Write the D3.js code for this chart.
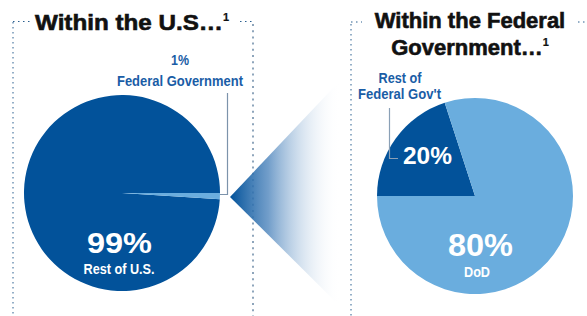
<!DOCTYPE html>
<html><head><meta charset="utf-8">
<script src="https://cdn.jsdelivr.net/npm/d3@7"></script>
<style>
html,body{margin:0;padding:0;background:#fff;}
svg{display:block;}
</style></head>
<body>
<svg id="c" width="587" height="316"></svg>
<script>
// Data
const usCategories = ["Rest of U.S.", "Federal Government"];
const usValues = [99, 1];
const fedCategories = ["Rest of Federal Gov't", "DoD"];
const fedValues = [20, 80];
const titles = ["Within the U.S…", "Within the Federal", "Government…"];

const dark = "#02529a", light = "#6aadde";
const svg = d3.select("#c");
const defs = svg.append("defs");
const grad = defs.append("linearGradient").attr("id","cone").attr("gradientUnits","userSpaceOnUse")
  .attr("x1",230).attr("y1",0).attr("x2",340).attr("y2",0);
grad.append("stop").attr("offset",0).attr("stop-color",dark).attr("stop-opacity",1);
grad.append("stop").attr("offset",0.35).attr("stop-color","#4f86bd").attr("stop-opacity",0.8);
grad.append("stop").attr("offset",1).attr("stop-color","#ffffff").attr("stop-opacity",0);

// Dotted frames
const dotted = (x1,y1,x2,y2,col,w,dash) => svg.append("line").attr("x1",x1).attr("y1",y1).attr("x2",x2).attr("y2",y2)
  .attr("stroke",col).attr("stroke-width",w).attr("stroke-dasharray",dash);
dotted(13,21.5,33,21.5,"#2a5f8f",1,"1.5,3.5");
dotted(240,21.5,253,21.5,"#2a5f8f",1,"1.5,3.5");
dotted(13,22,13,316,"#2a5f8f",1,"1.5,3.5");
dotted(253,24,253,316,"#8ea5bb",2,"2,4.2");
dotted(351,22,362,22,"#2a5f8f",1,"1.5,3.5");
dotted(578,22,587,22,"#2a5f8f",1,"1.5,3.5");
dotted(351,24,351,316,"#2a5f8f",1,"1.5,3.5");

// Cone
svg.append("path").attr("d","M230,197 L352,68 L352,318 Z").attr("fill","url(#cone)");

const R = 98;
const arc = d3.arc().innerRadius(0).outerRadius(R);
const usScale = d3.scaleOrdinal().domain(usCategories).range([dark, light]);
// Federal slice: from east (π/2) clockwise by its share
const usArcs = d3.pie().sort(null).startAngle(Math.PI/2 - 2*Math.PI*usValues[0]/100).endAngle(Math.PI/2 + 2*Math.PI*usValues[1]/100)(usValues);
const gL = svg.append("g").attr("transform","translate(122,193)");
gL.selectAll("path").data(usArcs).join("path").attr("d",arc).attr("fill",(d,i)=>usScale(usCategories[i]));

// Right pie
const fedArcs = d3.pie().sort(null).startAngle(-Math.PI/2).endAngle(1.5*Math.PI)(fedValues);
const fedScale = d3.scaleOrdinal().domain(fedCategories).range([dark, light]);
const gR = svg.append("g").attr("transform","translate(475,196)");
gR.selectAll("path").data(fedArcs).join("path").attr("d",arc).attr("fill",(d,i)=>fedScale(fedCategories[i]));

// Leader lines
svg.append("path").attr("d","M227.5,93 V194.5 H220").attr("fill","none").attr("stroke","#7c93ab").attr("stroke-width",1.2);
svg.append("path").attr("d","M389.5,108 V158.5 H398").attr("fill","none").attr("stroke","#8aa0b6").attr("stroke-width",1.2);

// Titles
const titleFont = "'Liberation Sans', Arial, sans-serif";
function title(x,y,txt,sup,anchor,w){
  const t = svg.append("text").attr("x",x).attr("y",y).attr("text-anchor",anchor||"middle")
    .attr("font-family",titleFont).attr("font-weight","bold").attr("font-size",22).attr("fill","#111")
    .attr("stroke","#111").attr("stroke-width",0.6);
  const m = t.append("tspan").text(txt);
  if(w) m.attr("textLength",w).attr("lengthAdjust","spacingAndGlyphs");
  if(sup) t.append("tspan").attr("font-size",11).attr("dx",0).attr("dy",-9).attr("stroke-width",0.2).text("1");
}
title(35,29.5,titles[0],true,"start",188);
title(470,27.5,titles[1],false);
title(470,55,titles[2],true);

function label(x,y,txt,size,col,w){
  const t = svg.append("text").attr("x",x).attr("y",y).attr("text-anchor","middle").attr("font-family",titleFont)
    .attr("font-weight","bold").attr("font-size",size).attr("fill",col).text(txt);
  if(w) t.attr("textLength",w).attr("lengthAdjust","spacingAndGlyphs");
}
label(180,65,usValues[1]+"%",14,"#1a5da6",18);
label(180,86,usCategories[1],15,"#1a5da6",126);
label(119.5,253,usValues[0]+"%",30,"#fff",65);
label(119,274,usCategories[0],15,"#fff",71);

label(400,83,"Rest of",15,"#1a5da6",43);
label(399.5,99,"Federal Gov't",15,"#1a5da6",83);
label(427.5,164,fedValues[0]+"%",24,"#fff",49);
label(480.5,256,fedValues[1]+"%",32,"#fff",65);
label(477,277,fedCategories[1],15,"#fff",26);
</script>
</body></html>
